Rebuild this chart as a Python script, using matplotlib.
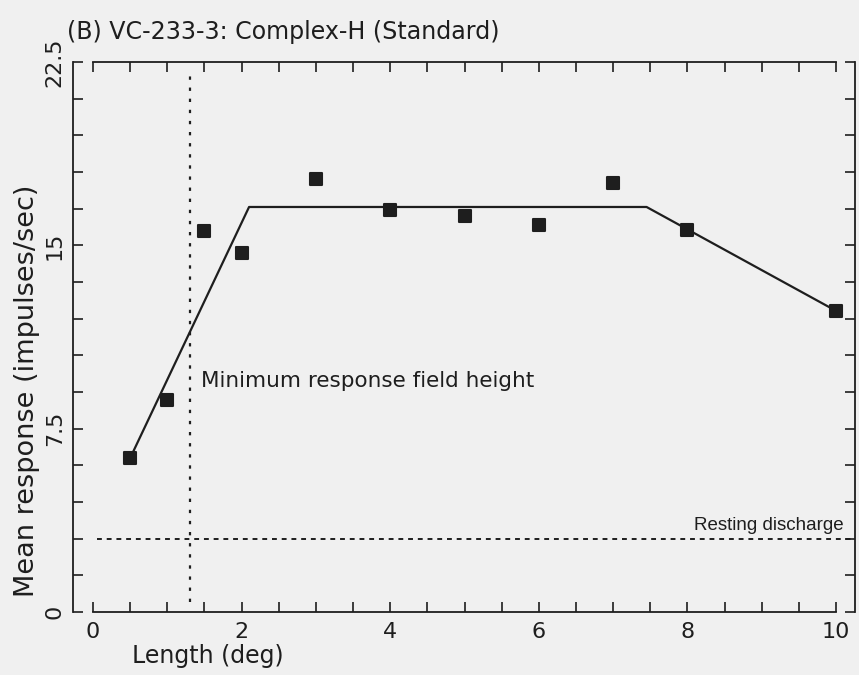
import matplotlib
matplotlib.use('Agg')
import matplotlib.pyplot as plt
from matplotlib.markers import MarkerStyle
from matplotlib.ticker import MultipleLocator

# measured responses
length_deg = [0.5, 1.0, 1.5, 2.0, 3.0, 4.0, 5.0, 6.0, 7.0, 8.0, 10.0]
mean_resp = [6.3, 8.67, 15.59, 14.69, 17.72, 16.45, 16.2, 15.83, 17.55, 15.63, 12.32]

# fitted trapezoid
fit_x = [0.5, 2.1, 7.45, 10.0]
fit_y = [6.3, 16.57, 16.57, 12.32]

resting_level = 3.0
min_field_height = 1.3

x_ticks = [0, 2, 4, 6, 8, 10]
y_ticks = [0, 7.5, 15, 22.5]
y_tick_labels = ['0', '7.5', '15', '22.5']

ink = '#1e1e1e'
bg = '#f0f0f0'
plt.rcParams['font.family'] = 'DejaVu Sans'

fig = plt.figure(figsize=(8.59, 6.75), dpi=100, facecolor=bg)
ax = fig.add_axes([0.1083, 0.0933, 0.8650, 0.8148])
ax.set_facecolor(bg)

ax.plot(fit_x, fit_y, color=ink, lw=1.6, solid_joinstyle='round', clip_on=False, zorder=3)
ax.plot(length_deg, mean_resp, linestyle='none', color=ink,
        marker=MarkerStyle('s', joinstyle='round'), markersize=9, mew=1.5, clip_on=False, zorder=4)

# reference lines
ax.plot([min_field_height, min_field_height], [0.4, 22.1], color=ink, lw=1.6,
        linestyle=(0, (1.5, 3.5)), clip_on=False)
ax.plot([0.05, 10.25], [resting_level, resting_level], color=ink, lw=1.4,
        linestyle=(0, (2.5, 2.5)), clip_on=False)

ax.text(1.45, 9.45, 'Minimum response field height', fontsize=15.5, color=ink, va='center', ha='left')
ax.text(10.1, 3.2, 'Resting discharge', fontsize=13.5, family='Liberation Sans', color=ink,
        va='bottom', ha='right')

ax.set_xlim(0, 10)
ax.set_ylim(0, 22.5)

# frame: offset left/right spines like the original
ax.spines['left'].set_position(('outward', 14.4))
ax.spines['right'].set_position(('outward', 13.7))
for s in ax.spines.values():
    s.set_linewidth(1.3)
    s.set_color(ink)

ax.xaxis.set_minor_locator(MultipleLocator(0.5))
ax.yaxis.set_minor_locator(MultipleLocator(1.5))
ax.set_xticks(x_ticks)
ax.set_yticks(y_ticks)
ax.set_yticklabels(y_tick_labels, rotation=90, va='center')

ax.tick_params(which='both', direction='in', top=True, right=True, length=7, width=1.2,
               color=ink, labelcolor=ink, labelsize=16)
ax.tick_params(axis='x', pad=7)
ax.tick_params(axis='y', pad=6)

fig.text(67 / 859, 1 - 32 / 675, '(B) VC-233-3: Complex-H (Standard)', fontsize=17.1,
         color=ink, ha='left', va='center')
fig.text(208 / 859, 1 - 656 / 675, 'Length (deg)', fontsize=17, color=ink, ha='center', va='center')
fig.text(27 / 859, 1 - 391 / 675, 'Mean response (impulses/sec)', fontsize=19.5, color=ink,
         ha='center', va='center', rotation=90)

plt.savefig('out.png', dpi=100, facecolor=bg)
